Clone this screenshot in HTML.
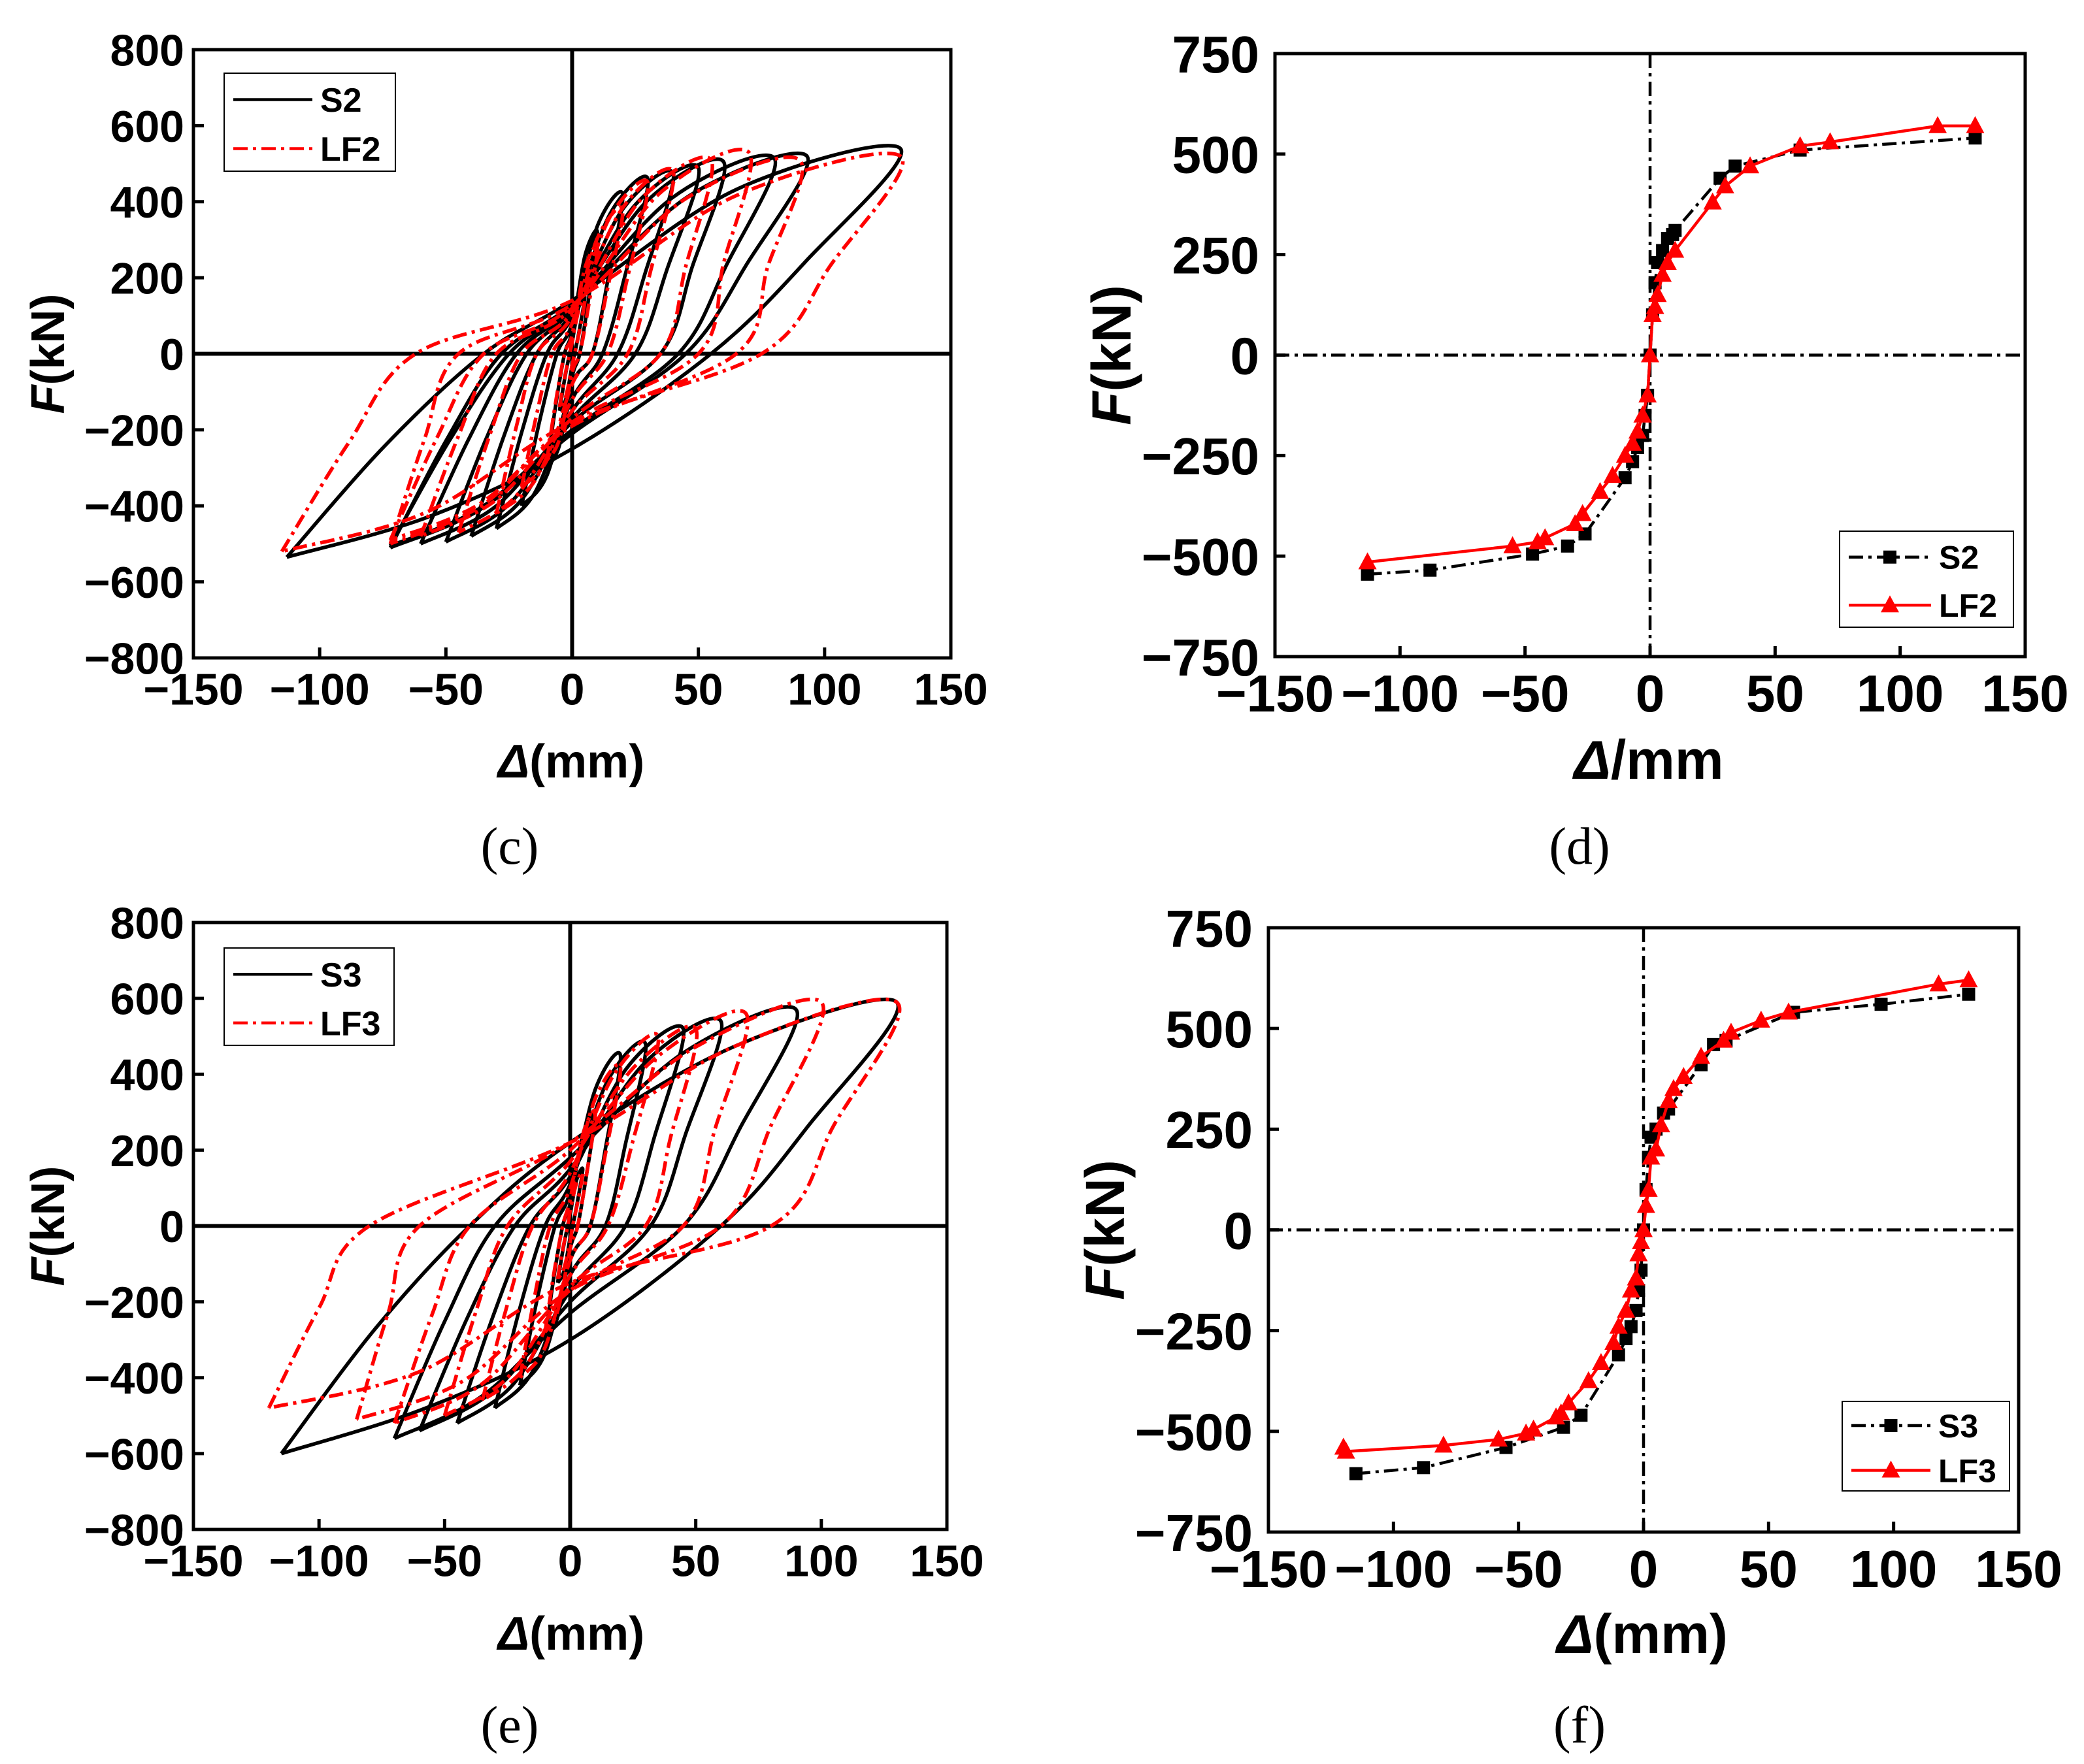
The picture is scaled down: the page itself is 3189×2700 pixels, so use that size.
<!DOCTYPE html>
<html><head><meta charset="utf-8"><style>
html,body{margin:0;padding:0;background:#fff}
svg{display:block}
</style></head><body>
<svg id="root" width="3189" height="2700" viewBox="0 0 3189 2700" xmlns="http://www.w3.org/2000/svg"></svg>
<script>
// ---------- Data ----------
// hysteresis cycles: [dPos,fPos,dNeg,fNeg,xUp,f0Up,xDown,f0Down]
const s2Cycles=[[5,150,-5,-150,-1,30,1,-30],[10,320,-10,-300,-3,60,3,-60],[20,420,-20,-400,-6,80,8,-80],[30,460,-30,-460,-10,100,12,-120],[40,475,-40,-480,-14,110,18,-150],[50,490,-50,-495,-18,120,25,-170],[60,505,-60,-500,-22,125,35,-180],[80,515,-72,-505,-25,130,42,-200],[93,520,-72,-510,-28,130,45,-210],[130,540,-113,-535,-35,140,55,-250]];
const lf2Cycles=[[5,140,-5,-140,-1,30,1,-30],[10,280,-10,-280,-3,50,3,-50],[20,380,-20,-350,-8,80,8,-80],[30,450,-30,-420,-14,100,14,-120],[40,480,-45,-470,-20,110,22,-150],[55,510,-60,-480,-30,120,35,-170],[70,530,-72,-490,-35,125,50,-180],[90,510,-72,-500,-45,130,65,-190],[130,520,-115,-520,-62,140,75,-180]];
const s3Cycles=[[5,150,-5,-150,-1,30,1,-30],[10,300,-10,-300,-3,60,3,-60],[20,450,-20,-420,-6,90,8,-90],[30,480,-30,-480,-10,110,14,-130],[45,520,-45,-520,-16,130,22,-170],[60,540,-60,-540,-22,150,32,-200],[90,570,-70,-560,-30,180,45,-230],[130,590,-115,-600,-40,220,60,-300]];
const lf3Cycles=[[5,140,-5,-140,-1,40,1,-40],[10,300,-10,-280,-3,70,3,-60],[20,420,-20,-400,-8,100,8,-90],[35,500,-35,-460,-15,140,15,-130],[50,520,-50,-500,-25,170,30,-160],[70,560,-70,-520,-40,200,45,-170],[100,590,-85,-510,-60,220,60,-170],[130,590,-120,-480,-80,220,80,-150]];
// skeleton curves
const s2SkX=[-113,-88,-47,-33,-26,-10,-7,-5,-3,-2,-1,0,1,2,3,5,7,9,10,28,34,60,130];
const s2SkF=[-545,-535,-495,-475,-445,-305,-265,-230,-200,-150,-100,0,100,180,230,260,290,300,310,440,470,510,540];
const lf2SkX=[-113,-55,-45,-42,-30,-27,-20,-15,-10,-7,-5,-3,-1,0,1,2,3,5,7,10,25,30,40,60,72,115,130];
const lf2SkF=[-515,-475,-465,-455,-420,-395,-340,-300,-250,-220,-190,-150,-100,0,100,120,150,200,230,260,380,420,470,520,530,570,570];
const s3SkX=[-115,-88,-55,-32,-25,-10,-7,-5,-3,-2,-1,0,1,2,3,5,8,10,23,28,33,60,95,130];
const s3SkF=[-605,-590,-540,-490,-460,-310,-270,-240,-200,-150,-100,0,100,180,230,250,290,300,410,460,470,540,560,585];
const lf3SkX=[-120,-119,-80,-58,-47,-44,-35,-33,-30,-22,-17,-12,-10,-7,-5,-3,-2,-1,0,1,2,3,5,7,10,12,16,23,32,35,47,58,118,130];
const lf3SkF=[-540,-550,-535,-520,-505,-495,-465,-455,-430,-375,-330,-280,-240,-200,-150,-120,-60,-30,0,60,100,180,200,260,320,350,380,430,470,490,520,540,610,620];
const xTicks=[-150,-100,-50,0,50,100,150];
const yTicksHyst=[-800,-600,-400,-200,0,200,400,600,800];
const yTicksSk=[-750,-500,-250,0,250,500,750];

// ---------- helpers ----------
const NS='http://www.w3.org/2000/svg';
const root=document.getElementById('root');
function mk(tag,attrs,parent){const e=document.createElementNS(NS,tag);for(const k in attrs)e.setAttribute(k,attrs[k]);(parent||root).appendChild(e);return e;}
function smooth(pts){let d='M'+pts[0][0].toFixed(1)+','+pts[0][1].toFixed(1);
 for(let i=0;i<pts.length-1;i++){const p0=pts[Math.max(0,i-1)],p1=pts[i],p2=pts[i+1],p3=pts[Math.min(pts.length-1,i+2)];
  const c1=[p1[0]+(p2[0]-p0[0])/6,p1[1]+(p2[1]-p0[1])/6],c2=[p2[0]-(p3[0]-p1[0])/6,p2[1]-(p3[1]-p1[1])/6];
  d+=' C'+c1[0].toFixed(1)+','+c1[1].toFixed(1)+' '+c2[0].toFixed(1)+','+c2[1].toFixed(1)+' '+p2[0].toFixed(1)+','+p2[1].toFixed(1);}
 return d;}
const FONT='"Liberation Sans", Arial, sans-serif';

function panel(cfg){
 const g=mk('g',{});
 
 
 const {x0,x1,y0,y1,ymin,ymax}=cfg;
 const sx=v=>x0+(v+150)/300*(x1-x0);
 const sy=v=>y1-(v-ymin)/(ymax-ymin)*(y1-y0);
 const cid='clip-'+cfg.name;
 const cp=mk('clipPath',{id:cid},g);mk('rect',{x:x0,y:y0,width:x1-x0,height:y1-y0},cp);
 const zx=mk('line',{x1:sx(0),x2:sx(0),y1:y0,y2:y1,stroke:'#000','stroke-width':cfg.dashZero?4.5:6,'stroke-dasharray':cfg.dashZero?'22,8,5,8':'none'},g);
 
 const zy=mk('line',{x1:x0,x2:x1,y1:sy(0),y2:sy(0),stroke:'#000','stroke-width':cfg.dashZero?4.5:6,'stroke-dasharray':cfg.dashZero?'22,8,5,8':'none'},g);
 
 const plot=mk('g',{'clip-path':'url(#'+cid+')'},g);
 
 cfg.series.forEach(s=>{
  const sg=mk('g',{},plot);
  
  
  if(s.cycles){
   s.cycles.forEach((c,i)=>{
    const [dp,fp,dn,fn,xu,f0u,xd,f0d]=c;
    const up=[[dn,fn],[(dn+xu)/2,fn*0.45],[xu,0],[0,f0u],[dp*0.5,fp*0.8],[dp,fp]];
    const dn2=[[dp,fp],[(dp+xd)/2,fp*0.45],[xd,0],[0,f0d],[dn*0.5,fn*0.8],[dn,fn]];
    const pts=up.concat(dn2.slice(1)).map(p=>[sx(p[0]),sy(p[1])]);
    const p=mk('path',{d:smooth(pts),fill:'none',stroke:s.color,'stroke-width':5.5,'stroke-dasharray':s.dash||'none','stroke-linejoin':'round'},sg);
    
    
   });
  } else {
   const pts=s.xs.map((v,i)=>[sx(v),sy(s.fs[i])]);
   const l=mk('polyline',{points:pts.map(p=>p.join(',')).join(' '),fill:'none',stroke:s.color,'stroke-width':4.5,'stroke-dasharray':s.dash||'none'},sg);
   
   
   pts.forEach(p=>{
    let m;
    if(s.marker==='square')m=mk('rect',{x:p[0]-10,y:p[1]-10,width:20,height:20,fill:s.color},sg);
    else m=mk('polygon',{points:`${p[0]},${p[1]-15} ${p[0]-14},${p[1]+11} ${p[0]+14},${p[1]+11}`,fill:s.color},sg);
    
    
   });
  }
 });
 const fr=mk('rect',{x:x0,y:y0,width:x1-x0,height:y1-y0,fill:'none',stroke:'#000','stroke-width':5},g);
 
 xTicks.forEach(t=>{
  const tk=mk('line',{x1:sx(t),x2:sx(t),y1:y1,y2:y1-16,stroke:'#000','stroke-width':5},g);
  
  const tl=mk('text',{x:sx(t),y:y1+cfg.tfs*1.05,'font-family':FONT,'font-weight':'bold','font-size':cfg.tfs,'text-anchor':'middle'},g);
  tl.textContent=t<0?'\u2212'+(-t):String(t);
  
 });
 cfg.yTicks.forEach(t=>{
  const tk=mk('line',{x1:x0,x2:x0+16,y1:sy(t),y2:sy(t),stroke:'#000','stroke-width':5},g);
  
  const tl=mk('text',{x:x0-cfg.yOff,y:sy(t)+cfg.tfs*0.36,'font-family':FONT,'font-weight':'bold','font-size':cfg.tfs,'text-anchor':'end'},g);
  tl.textContent=t<0?'\u2212'+(-t):String(t);
  
 });
 const xt=mk('text',{x:cfg.xtX,y:cfg.xtY,'font-family':FONT,'font-weight':'bold','font-size':cfg.afs,'text-anchor':'middle'},g);
 xt.innerHTML='<tspan font-style="italic">Δ</tspan>'+cfg.xunit;
 
 const yt=mk('text',{x:0,y:0,transform:`translate(${cfg.ytX},${(y0+y1)/2}) rotate(-90)`,'font-family':FONT,'font-weight':'bold','font-size':cfg.afs,'text-anchor':'middle'},g);
 yt.innerHTML='<tspan font-style="italic">F</tspan>(kN)';
 
 const cap=mk('text',{x:cfg.capX,y:cfg.capY,'font-family':'"Liberation Serif", serif','font-size':80,'text-anchor':'middle'},g);
 cap.textContent=cfg.caption;
 
 const L=cfg.legend;
 const lg=mk('g',{},g);
 
 mk('rect',{x:L.x,y:L.y,width:L.w,height:L.h,fill:'#fff',stroke:'#000','stroke-width':2},lg);
 cfg.series.forEach((s,i)=>{
  const cy=L.y+L.h*(0.27+0.5*i);
  const e=mk('g',{},lg);
  
  
  mk('line',{x1:L.x+14,x2:L.x+L.lineW,y1:cy,y2:cy,stroke:s.color,'stroke-width':4.5,'stroke-dasharray':s.dash||'none'},e);
  const mx=L.x+14+(L.lineW-14)/2;
  if(s.marker==='square')mk('rect',{x:mx-10,y:cy-10,width:20,height:20,fill:s.color},e);
  else if(s.marker==='tri')mk('polygon',{points:`${mx},${cy-15} ${mx-14},${cy+11} ${mx+14},${cy+11}`,fill:s.color},e);
  const t=mk('text',{x:L.x+L.lineW+12,y:cy+L.fs*0.36,'font-family':FONT,'font-weight':'bold','font-size':L.fs},e);
  t.textContent=s.label;
 });
}
const DD='22,8,5,8';
panel({name:'panel-c',x0:296,x1:1455,y0:76,y1:1007,ymin:-800,ymax:800,yTicks:yTicksHyst,tfs:68,yOff:14,afs:72,xunit:'(mm)',xtX:874,xtY:1190,ytX:98,capX:780,capY:1322,caption:'(c)',
 series:[{label:'S2',color:'#000',cycles:s2Cycles},{label:'LF2',color:'#ff0000',dash:DD,cycles:lf2Cycles}],
 legend:{x:343,y:112,w:262,h:150,lineW:135,fs:52}});
panel({name:'panel-d',x0:1951,x1:3099,y0:82,y1:1005,ymin:-750,ymax:750,yTicks:yTicksSk,tfs:80,yOff:24,afs:84,xunit:'/mm',xtX:2523,xtY:1192,ytX:1730,capX:2417,capY:1322,caption:'(d)',dashZero:true,
 series:[{label:'S2',color:'#000',dash:DD,marker:'square',xs:s2SkX,fs:s2SkF},{label:'LF2',color:'#ff0000',marker:'tri',xs:lf2SkX,fs:lf2SkF}],
 legend:{x:2815,y:813,w:266,h:147,lineW:140,fs:50}});
panel({name:'panel-e',x0:296,x1:1449,y0:1412,y1:2341,ymin:-800,ymax:800,yTicks:yTicksHyst,tfs:68,yOff:14,afs:72,xunit:'(mm)',xtX:874,xtY:2525,ytX:98,capX:780,capY:2667,caption:'(e)',
 series:[{label:'S3',color:'#000',cycles:s3Cycles},{label:'LF3',color:'#ff0000',dash:DD,cycles:lf3Cycles}],
 legend:{x:343,y:1451,w:260,h:149,lineW:135,fs:52}});
panel({name:'panel-f',x0:1941,x1:3089,y0:1420,y1:2345,ymin:-750,ymax:750,yTicks:yTicksSk,tfs:80,yOff:24,afs:84,xunit:'(mm)',xtX:2513,xtY:2530,ytX:1720,capX:2417,capY:2667,caption:'(f)',dashZero:true,
 series:[{label:'S3',color:'#000',dash:DD,marker:'square',xs:s3SkX,fs:s3SkF},{label:'LF3',color:'#ff0000',marker:'tri',xs:lf3SkX,fs:lf3SkF}],
 legend:{x:2819,y:2145,w:256,h:137,lineW:135,fs:50}});
</script>
</body></html>
